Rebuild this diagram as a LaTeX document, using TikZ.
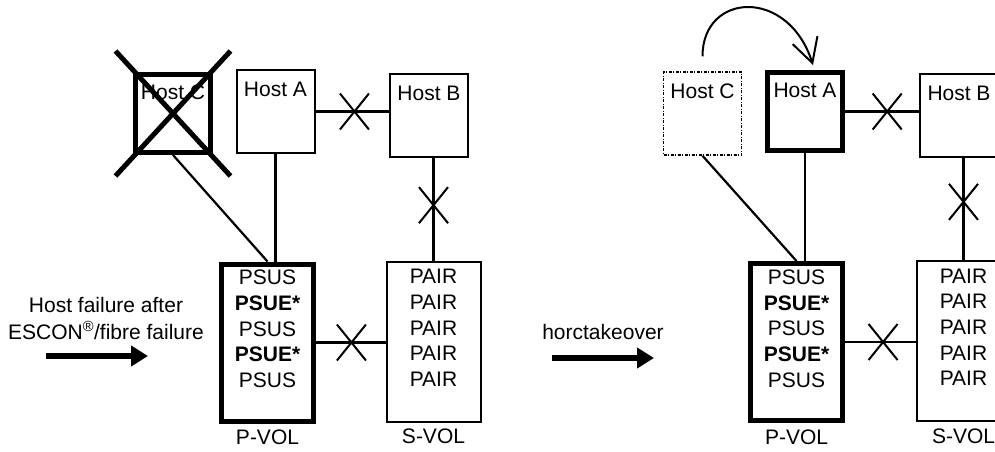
\documentclass[tikz,border=0pt]{standalone}
\usepackage{fontspec}
\setmainfont{Liberation Sans}
\usetikzlibrary{positioning, arrows.meta, shapes.misc}

\tikzset{
  host/.style={draw, line width=2pt, minimum width=78pt, inner xsep=0pt, inner ysep=4pt, text height=22pt, text depth=53pt},
  hostbold/.style={host, line width=5pt, minimum width=75pt, inner ysep=2.5pt, text depth=51pt},
  hostghost/.style={host, line width=1.5pt, dash pattern=on 3pt off 1.5pt on 1pt off 1.5pt},
  vol/.style={draw, line width=2pt, minimum width=94pt, minimum height=160pt},
  volbold/.style={vol, line width=5pt, minimum width=92pt, minimum height=157pt},
  rows/.style={align=center, inner sep=0pt},
  xmark/.style={cross out, draw, line width=2pt, minimum width=27pt, minimum height=34pt, inner sep=0pt},
  wire/.style={line width=2.2pt},
  bigarrow/.style={line width=6pt, -{Triangle[length=17pt,width=20pt]}}
}

\begin{document}
\begin{tikzpicture}[x=1pt, y=-1pt, font=\fontsize{21}{25.7}\selectfont]
  \useasboundingbox (0,0) rectangle (995,451);
  \clip (0,0) rectangle (995,451);

  % before horctakeover
  \node[hostbold] (hC) at (173,113.5) {Host C};
  \node[xmark, line width=5pt, minimum width=110pt, minimum height=120pt] (hCx) at (hC.center) {};
  \node[host] (hA) at (275.5,111.5) {Host A};
  \node[host] (hB) at (429,115.5) {Host B};
  \node[volbold] (pvL) at (267.5,342.5) {};
  \node[vol] (svL) at (433.5,341.5) {};
  \node[rows, anchor=north] (pvLrows) at ([yshift=-8.5pt]pvL.north) {PSUS\\\textbf{PSUE*}\\PSUS\\\textbf{PSUE*}\\PSUS};
  \node[rows, anchor=north] (svLrows) at ([yshift=-8.5pt]svL.north) {PAIR\\PAIR\\PAIR\\PAIR\\PAIR};
  \node[below=3pt of pvL] (pvLlab) {P-VOL};
  \node[below=3pt of svL] (svLlab) {S-VOL};

  \draw[wire] (hC.south) -- (pvL.north);
  \draw[wire] (hA.south) -- (hA.south |- pvL.north);
  \draw[wire] (hA.east) -- node[xmark, pos=0.53] {} (hA.east -| hB.west);
  \draw[wire] (hB.south -| svL.north) -- node[xmark, pos=0.46] {} (svL.north);
  \draw[wire] (pvL.east) -- node[xmark, pos=0.51] {} (pvL.east -| svL.west);

  \node[align=center, font=\fontsize{21}{27}\selectfont] (failTxt) at (106,318) {Host failure after\\ESCON\textsuperscript{®}/fibre failure};
  \coordinate (aL0) at (46,356);
  \coordinate (aL1) at (148,356);
  \draw[bigarrow] (aL0) -- (aL1);

  % after horctakeover
  \node[hostghost] (hC2) at (702.5,113.5) {Host C};
  \node[hostbold] (hA2) at (805,111.5) {Host A};
  \node[host] (hB2) at (959,115.5) {Host B};
  \node[volbold] (pvR) at (796.5,342) {};
  \node[vol] (svR) at (963.5,341) {};
  \node[rows, anchor=north] (pvRrows) at ([yshift=-8.5pt]pvR.north) {PSUS\\\textbf{PSUE*}\\PSUS\\\textbf{PSUE*}\\PSUS};
  \node[rows, anchor=north] (svRrows) at ([yshift=-8.5pt]svR.north) {PAIR\\PAIR\\PAIR\\PAIR\\PAIR};
  \node[below=3pt of pvR] (pvRlab) {P-VOL};
  \node[below=3pt of svR] (svRlab) {S-VOL};

  \draw[wire] (hC2.south) -- (pvR.north);
  \draw[wire] (hA2.south) -- (hA2.south |- pvR.north);
  \draw[wire] (hA2.east) -- node[xmark, pos=0.57] {} (hA2.east -| hB2.west);
  \draw[wire] (hB2.south -| svR.north) -- node[xmark, pos=0.43] {} (svR.north);
  \draw[wire] (pvR.east) -- node[xmark, pos=0.54] {} (pvR.east -| svR.west);
  \draw[line width=2pt, -{Straight Barb[length=24pt,width=26pt]}] ([yshift=15pt]hC2.north) .. controls +(0,-64) and +(-25,-78) .. ([xshift=8pt,yshift=5pt]hA2.north);

  \node (takeTxt) at (603,332) {horctakeover};
  \coordinate (aR0) at (552,358);
  \coordinate (aR1) at (654,358);
  \draw[bigarrow] (aR0) -- (aR1);
\end{tikzpicture}
\end{document}
